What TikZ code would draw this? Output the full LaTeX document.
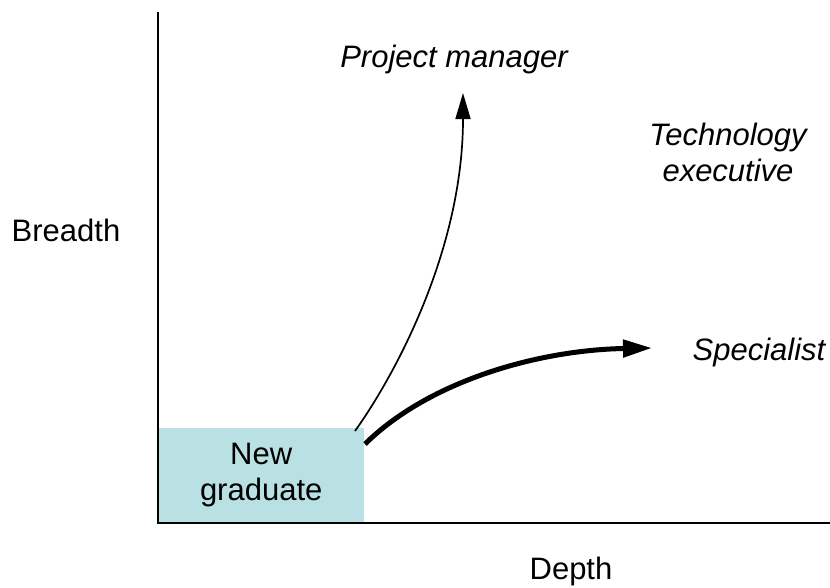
\documentclass[tikz,border=0pt]{standalone}
\usepackage{fontspec}
\setmainfont{Liberation Sans}
\usetikzlibrary{arrows.meta}
\definecolor{azzurro}{RGB}{185,224,226}

\begin{document}
\begin{tikzpicture}[x=1pt, y=-1pt,
		every node/.style={font=\fontsize{31}{36}\selectfont, inner sep=0pt},
		corsivo/.style={font=\fontsize{31}{36}\selectfont\itshape}]
	\useasboundingbox (0,0) rectangle (830,587);
	
	% Riquadro di partenza
	\node[fill=azzurro, minimum width=206pt, minimum height=95pt, anchor=south west, align=center] (laureato) at (158,523) {New\\graduate};
	
	% Assi
	\draw[line width=2pt] (158,12) -- (158,523) -- (830,523);
	\node[anchor=base] (ampiezza) at (66,241) {Breadth};
	\node[anchor=base] (profondita) at (571,579) {Depth};
	
	% Etichette dei percorsi
	\node[corsivo, anchor=base] (manager) at (454,67) {Project manager};
	\node[corsivo, align=center] (dirigente) at (728,152) {Technology\\executive};
	\node[corsivo, anchor=base] (specialista) at (759,360) {Specialist};
	
	% Percorso verso manager
	\coordinate (inizio1) at (355,431);
	\coordinate (punta1) at (463,93);
	\draw[line width=1.7pt, -{Triangle[length=26pt, width=15pt]}] (inizio1) .. controls (395,375) and (463,250) .. (punta1);
	
	% Percorso verso specialista
	\coordinate (inizio2) at (365,444);
	\coordinate (punta2) at (652,348);
	\draw[line width=5pt, -{Triangle[length=29pt, width=17pt]}] (inizio2) .. controls (430,380) and (540,350) .. (punta2);
\end{tikzpicture}
\end{document}
